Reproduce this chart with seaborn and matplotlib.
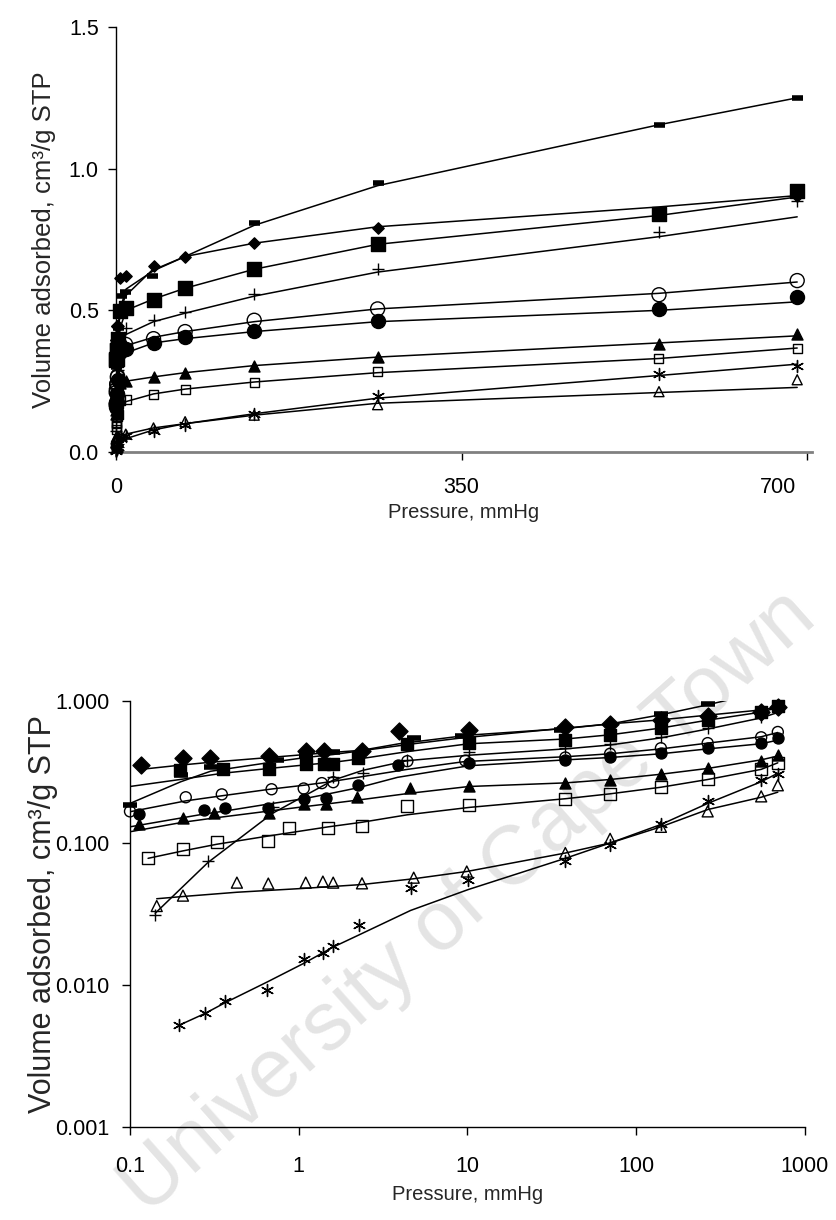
import matplotlib
matplotlib.use("Agg")
import matplotlib.pyplot as plt
import matplotlib.transforms as mtransforms
import seaborn as sns
import numpy as np

sns.set_theme(style="white")
plt.rcParams['font.family'] = ['Liberation Sans', 'DejaVu Sans']

# ---------------- data (pressure mmHg, volume cm3/g STP) ----------------
dash_p = [0.10, 0.20, 0.30, 0.74, 1.1, 1.6, 4.8, 9.3, 36, 140, 265, 550, 690]
dash_v = [0.184, 0.30, 0.342, 0.383, 0.41, 0.436, 0.55, 0.566, 0.62, 0.81, 0.95, 1.155, 1.25]
dash_fp = [0.10, 0.20, 0.30, 0.74, 1.1, 1.6, 4.8, 9.3, 36, 70, 140, 265, 550, 690]
dash_fv = [0.19, 0.27, 0.32, 0.375, 0.40, 0.42, 0.50, 0.55, 0.64, 0.69, 0.80, 0.94, 1.155, 1.25]

sq_p = [0.198, 0.355, 0.667, 1.1, 1.41, 1.6, 2.25, 4.4, 10.2, 38, 70, 140, 265, 550, 690]
sq_v = [0.325, 0.33, 0.33, 0.36, 0.36, 0.36, 0.40, 0.497, 0.51, 0.535, 0.578, 0.645, 0.733, 0.84, 0.92]
sq_fp = [0.1, 0.198, 0.355, 0.667, 1.1, 1.6, 2.25, 4.4, 10.2, 38, 70, 140, 265, 550, 690]
sq_fv = [0.25, 0.28, 0.31, 0.335, 0.355, 0.37, 0.39, 0.44, 0.50, 0.54, 0.578, 0.645, 0.733, 0.835, 0.90]

dia_p = [0.116, 0.206, 0.298, 0.667, 1.10, 1.41, 2.37, 3.93, 10.2, 38, 70, 140, 265, 550, 690]
dia_v = [0.353, 0.395, 0.395, 0.41, 0.443, 0.443, 0.443, 0.614, 0.62, 0.655, 0.69, 0.737, 0.79, 0.84, 0.905]
dia_fp = [0.116, 0.206, 0.298, 0.667, 1.10, 1.41, 2.37, 3.93, 10.2, 38, 70, 140, 265, 550, 690]
dia_fv = [0.33, 0.355, 0.37, 0.40, 0.42, 0.43, 0.45, 0.50, 0.575, 0.64, 0.69, 0.737, 0.795, 0.865, 0.905]

plus_p = [0.141, 0.29, 0.70, 1.6, 2.4, 4.4, 10.2, 38, 70, 140, 265, 550, 690]
plus_v = [0.031, 0.075, 0.178, 0.29, 0.31, 0.383, 0.436, 0.466, 0.495, 0.558, 0.645, 0.775, 0.885]
plus_fp = [0.141, 0.29, 0.70, 1.6, 2.4, 4.4, 10.2, 38, 70, 140, 265, 550, 690]
plus_fv = [0.032, 0.073, 0.162, 0.277, 0.325, 0.38, 0.415, 0.46, 0.49, 0.55, 0.635, 0.76, 0.83]

oc_p = [0.10, 0.214, 0.35, 0.69, 1.07, 1.37, 1.6, 4.4, 9.7, 38, 70, 140, 265, 550, 690]
oc_v = [0.167, 0.21, 0.22, 0.239, 0.242, 0.264, 0.268, 0.377, 0.38, 0.40, 0.425, 0.465, 0.505, 0.555, 0.605]
oc_fp = [0.10, 0.214, 0.35, 0.69, 1.07, 1.37, 1.6, 4.4, 9.7, 38, 70, 140, 265, 550, 690]
oc_fv = [0.166, 0.198, 0.215, 0.24, 0.255, 0.265, 0.272, 0.33, 0.375, 0.405, 0.425, 0.46, 0.505, 0.56, 0.60]

fc_p = [0.113, 0.275, 0.366, 0.66, 1.07, 1.45, 2.25, 3.85, 10.2, 38, 70, 140, 265, 550, 690]
fc_v = [0.159, 0.172, 0.175, 0.175, 0.203, 0.206, 0.255, 0.353, 0.365, 0.385, 0.405, 0.427, 0.463, 0.505, 0.548]
fc_fp = [0.10, 0.275, 0.366, 0.66, 1.07, 1.45, 2.25, 3.85, 10.2, 38, 70, 140, 265, 550, 690]
fc_fv = [0.13, 0.16, 0.168, 0.188, 0.205, 0.22, 0.245, 0.29, 0.35, 0.385, 0.40, 0.425, 0.46, 0.50, 0.53]

ft_p = [0.113, 0.206, 0.315, 0.67, 1.07, 1.45, 2.2, 4.55, 10.2, 38, 70, 140, 265, 550, 690]
ft_v = [0.135, 0.149, 0.162, 0.162, 0.187, 0.187, 0.21, 0.243, 0.25, 0.263, 0.28, 0.305, 0.336, 0.38, 0.415]
ft_fp = [0.10, 0.206, 0.315, 0.67, 1.07, 1.45, 2.2, 4.55, 10.2, 38, 70, 140, 265, 550, 690]
ft_fv = [0.12, 0.14, 0.15, 0.168, 0.18, 0.188, 0.20, 0.224, 0.25, 0.265, 0.28, 0.305, 0.335, 0.385, 0.41]

os_p = [0.128, 0.206, 0.327, 0.66, 0.88, 1.5, 2.37, 4.4, 10.2, 38, 70, 140, 265, 550, 690]
os_v = [0.078, 0.090, 0.101, 0.103, 0.127, 0.127, 0.131, 0.181, 0.184, 0.203, 0.22, 0.247, 0.283, 0.33, 0.367]
os_fp = [0.128, 0.206, 0.327, 0.66, 0.88, 1.5, 2.37, 4.4, 10.2, 38, 70, 140, 265, 550, 690]
os_fv = [0.078, 0.088, 0.098, 0.112, 0.118, 0.13, 0.14, 0.158, 0.178, 0.205, 0.222, 0.247, 0.28, 0.33, 0.367]

ot_p = [0.144, 0.206, 0.43, 0.66, 1.10, 1.39, 1.6, 2.37, 4.8, 9.9, 38, 70, 140, 265, 550, 690]
ot_v = [0.036, 0.0426, 0.0526, 0.0518, 0.0526, 0.0535, 0.0526, 0.052, 0.057, 0.063, 0.085, 0.107, 0.13, 0.167, 0.213, 0.255]
ot_fp = [0.144, 0.206, 0.43, 1.10, 2.37, 4.8, 9.9, 38, 70, 140, 265, 550, 690]
ot_fv = [0.0405, 0.042, 0.045, 0.048, 0.051, 0.056, 0.063, 0.085, 0.10, 0.13, 0.172, 0.21, 0.228]

st_p = [0.195, 0.278, 0.366, 0.65, 1.07, 1.39, 1.6, 2.27, 4.6, 10.1, 38, 70, 140, 265, 550, 690]
st_v = [0.0052, 0.0064, 0.0077, 0.0092, 0.0153, 0.0168, 0.0189, 0.0265, 0.0485, 0.055, 0.075, 0.097, 0.135, 0.196, 0.277, 0.305]
st_fp = [0.195, 0.278, 0.366, 0.65, 1.07, 1.6, 2.27, 4.6, 10.1, 38, 70, 140, 265, 550, 690]
st_fv = [0.0052, 0.0063, 0.0075, 0.0105, 0.0142, 0.0185, 0.0225, 0.0335, 0.047, 0.078, 0.10, 0.135, 0.19, 0.27, 0.31]

top_xticks = [0, 350, 700]
top_yticks = [0.0, 0.5, 1.0, 1.5]
top_ytick_labels = ["0.0", "0.5", "1.0", "1.5"]
bot_xticks = [0.1, 1, 10, 100, 1000]
bot_xtick_labels = ["0.1", "1", "10", "100", "1000"]
bot_yticks = [0.001, 0.01, 0.1, 1.0]
bot_ytick_labels = ["0.001", "0.010", "0.100", "1.000"]

# (data p, data v, fit p, fit v, marker, filled, size_top(px), size_bottom(px), edge width)
series = [
    (fc_p, fc_v, fc_fp, fc_fv, 'o', True, 14, 11, 1.0),
    (oc_p, oc_v, oc_fp, oc_fv, 'o', False, 14, 11, 1.0),
    (ft_p, ft_v, ft_fp, ft_fv, '^', True, 11, 11, 1.0),
    (os_p, os_v, os_fp, os_fv, 's', False, 9, 12, 1.0),
    (ot_p, ot_v, ot_fp, ot_fv, '^', False, 10, 11, 1.0),
    (st_p, st_v, st_fp, st_fv, (6, 2, 0), False, 12, 12, 1.0),
    (plus_p, plus_v, plus_fp, plus_fv, '+', False, 12, 12, 1.0),
    (sq_p, sq_v, sq_fp, sq_fv, 's', True, 14, 12, 1.0),
    (dia_p, dia_v, dia_fp, dia_fv, 'D', True, 8, 12, 1.0),
    (dash_p, dash_v, dash_fp, dash_fv, '_', False, 11, 14, 4.0),
]

W, H = 837, 1220
fig = plt.figure(figsize=(W / 100, H / 100), dpi=100)
fig.patch.set_facecolor('white')

# watermark
fig.text(468 / W, 1 - 902 / H, "University of Cape Town", rotation=41.5,
         fontsize=60, color='#e4e4e4', ha='center', va='center', zorder=-5)

ax1 = fig.add_axes([116 / W, 1 - 452 / H, (812 - 116) / W, (452 - 27) / H])
ax2 = fig.add_axes([130 / W, 1 - 1127 / H, (805 - 130) / W, (1127 - 701) / H])
for ax in (ax1, ax2):
    ax.set_facecolor('none')

PX = 72 / 100  # points per pixel


def draw(ax, logmode):
    for (p, v, fp, fv, m, filled, s_top, s_bot, ew) in series:
        sns.lineplot(x=fp, y=fv, ax=ax, color='black', lw=1.1, sort=False,
                     estimator=None, zorder=2, legend=False)
    for (p, v, fp, fv, m, filled, s_top, s_bot, ew) in series:
        pp = np.array(p, dtype=float)
        vv = np.array(v, dtype=float)
        if logmode:
            keep = vv <= 1.0
            pp, vv = pp[keep], vv[keep]
        size = (s_bot if logmode else s_top) * PX
        if m in ('+', '_') or isinstance(m, tuple):
            sns.scatterplot(x=pp, y=vv, ax=ax, marker=m, s=size ** 2,
                            color='black', linewidth=ew, zorder=3, legend=False)
        else:
            sns.scatterplot(x=pp, y=vv, ax=ax, marker=m, s=size ** 2,
                            facecolor='black' if filled else 'none',
                            edgecolor='black', linewidth=ew, zorder=3, legend=False)
    for coll in ax.collections:
        coll.set_clip_on(False)


draw(ax1, False)
draw(ax2, True)

# ---- top axes ----
ax1.set_xlim(0, 705)
ax1.set_ylim(0, 1.5)
ax1.set_xticks(top_xticks)
ax1.set_xticklabels([str(t) for t in top_xticks])
ax1.set_yticks(top_yticks)
ax1.set_yticklabels(top_ytick_labels)

# ---- bottom axes ----
ax2.set_xscale('log')
ax2.set_yscale('log')
ax2.set_xlim(0.1, 1000)
ax2.set_ylim(0.001, 1.0)
ax2.set_xticks(bot_xticks)
ax2.set_xticklabels(bot_xtick_labels)
ax2.set_yticks(bot_yticks)
ax2.set_yticklabels(bot_ytick_labels)
ax2.minorticks_off()

for ax in (ax1, ax2):
    for side in ('top', 'right'):
        ax.spines[side].set_visible(False)
    ax.spines['left'].set_color('black')
    ax.spines['left'].set_linewidth(1.0)
    ax.spines['bottom'].set_linewidth(1.0)
    ax.spines['bottom'].set_color('black')
    ax.tick_params(axis='both', which='major', bottom=True, left=True,
                   direction='out', length=6, width=1, colors='black',
                   labelsize=15.5)

ax1.tick_params(axis='x', pad=12)
ax1.tick_params(axis='y', pad=6.5)
ax2.tick_params(axis='x', pad=15)
ax2.tick_params(axis='y', pad=8.5)

ax1.set_ylabel("Volume adsorbed, cm³/g STP", fontsize=18.5)
ax2.set_ylabel("Volume adsorbed, cm³/g STP", fontsize=22)
ax1.set_xlabel("Pressure, mmHg", fontsize=14.5)
ax2.set_xlabel("Pressure, mmHg", fontsize=14.5)

ax1.spines['bottom'].set_color('#808080')
ax1.spines['bottom'].set_linewidth(2.0)
ax1.yaxis.set_label_coords((56 - 116) / 696, 0.5)
ax2.yaxis.set_label_coords((58 - 130) / 675, 0.5)
ax1.xaxis.set_label_coords(0.5, -(503 - 452) / 425)
ax2.xaxis.set_label_coords(0.5, -(1185 - 1127) / 426)

# last top tick label sits inside the chart area (shifted left), as in the original
last_lab = ax1.get_xticklabels()[-1]
last_lab.set_transform(last_lab.get_transform() +
                       mtransforms.ScaledTranslation(-0.29, 0, fig.dpi_scale_trans))

fig.savefig("out.png", dpi=100, facecolor='white')
